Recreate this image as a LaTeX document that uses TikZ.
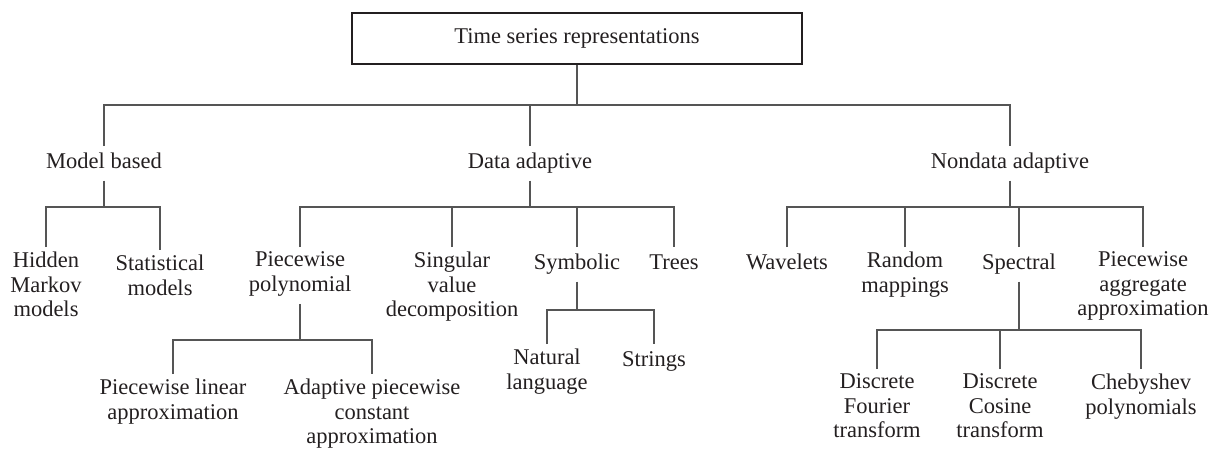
\documentclass[tikz,border=0pt]{standalone}
\usepackage{fontspec}
\setmainfont{Liberation Serif}
\usepackage{tikz}
\newcommand{\repfont}{\fontsize{22.5}{24.5}\selectfont}
\definecolor{linegray}{HTML}{555555}
\definecolor{textblack}{HTML}{231F20}
\tikzset{
  repnode/.style = {align=center, inner sep=0pt, outer sep=5pt, anchor=north,
    font=\repfont, text=textblack,
    execute at begin node=\strut, execute at end node=\strut},
  rootnode/.style = {draw=textblack, line width=1.3pt, inner sep=0pt,
    minimum width=450pt, minimum height=51pt, font=\repfont, text=textblack},
  conn/.style = {draw=linegray, line width=1.2pt},
}

\begin{document}
\begin{tikzpicture}[x=1pt, y=-1pt]
  \useasboundingbox (0,0) rectangle (1221,450);
  % root and first level
  \node [rootnode] (root) at (577,38.5) {Time series representations};
  \node [repnode] (mb) at (104,146) {Model based};
  \node [repnode] (da) at (530,146) {Data adaptive};
  \node [repnode] (nd) at (1010,146) {Nondata adaptive};
  % second level
  \node [repnode] (hmm) at (46,247) {Hidden\\Markov\\models};
  \node [repnode] (stat) at (160,250) {Statistical\\models};
  \node [repnode] (pp) at (300,247) {Piecewise\\polynomial};
  \node [repnode] (svd) at (452,247) {Singular\\value\\decomposition};
  \node [repnode] (sym) at (577,247) {Symbolic};
  \node [repnode] (trees) at (674,247) {Trees};
  \node [repnode] (wav) at (787,247) {Wavelets};
  \node [repnode] (rm) at (905,247) {Random\\mappings};
  \node [repnode] (spec) at (1019,247) {Spectral};
  \node [repnode] (paa) at (1143,247) {Piecewise\\aggregate\\approximation};
  % third level
  \node [repnode] (pla) at (173,374) {Piecewise linear\\approximation};
  \node [repnode] (apca) at (372,374) {Adaptive piecewise\\constant\\approximation};
  \node [repnode] (nl) at (547,344) {Natural\\language};
  \node [repnode] (str) at (654,344) {Strings};
  \node [repnode] (dft) at (877,369) {Discrete\\Fourier\\transform};
  \node [repnode] (dct) at (1000,369) {Discrete\\Cosine\\transform};
  \node [repnode] (cheb) at (1141,369) {Chebyshev\\polynomials};

  % junctions
  \coordinate (jroot) at (577,105);
  \coordinate (jmb) at (104,207);
  \coordinate (jda) at (530,207);
  \coordinate (jnd) at (1010,207);
  \coordinate (jpp) at (300,340);
  \coordinate (jsym) at (577,310);
  \coordinate (jspec) at (1019,330);

  % connectors
  \draw [conn] (root) -- (jroot);
  \draw [conn] (mb) |- (jroot) -| (nd);
  \draw [conn] (da) -- (da |- jroot);

  \draw [conn] (mb) -- (jmb);
  \draw [conn] (hmm) |- (jmb) -| (stat);

  \draw [conn] (da) -- (jda);
  \draw [conn] (pp) |- (jda) -| (trees);
  \draw [conn] (svd) -- (svd |- jda);
  \draw [conn] (sym) -- (sym |- jda);

  \draw [conn] (nd) -- (jnd);
  \draw [conn] (wav) |- (jnd) -| (paa);
  \draw [conn] (rm) -- (rm |- jnd);
  \draw [conn] (spec) -- (spec |- jnd);

  \draw [conn] (pp) -- (jpp);
  \draw [conn] (pla) |- (jpp) -| (apca);

  \draw [conn] (sym) -- (jsym);
  \draw [conn] (nl) |- (jsym) -| (str);

  \draw [conn] (spec) -- (jspec);
  \draw [conn] (dft) |- (jspec) -| (cheb);
  \draw [conn] (dct) -- (dct |- jspec);
\end{tikzpicture}
\end{document}
